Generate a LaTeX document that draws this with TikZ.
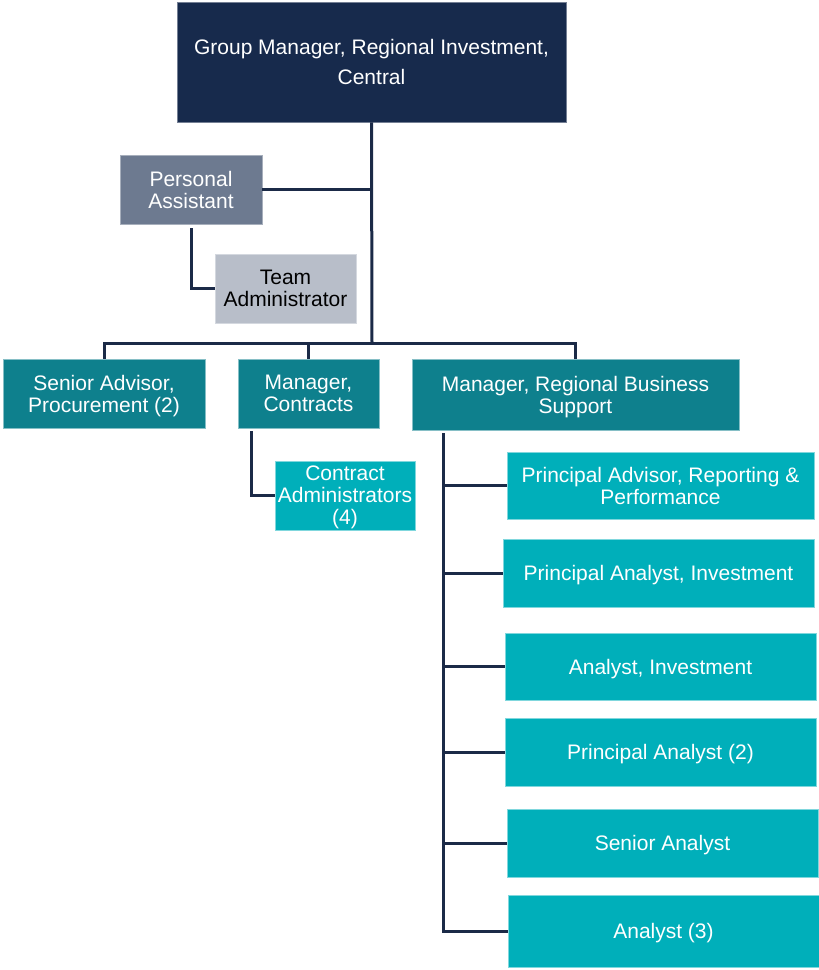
\documentclass[tikz,border=0pt]{standalone}
\usepackage{fontspec}
\setmainfont{Liberation Sans}
\definecolor{navy}{HTML}{172A4C}
\definecolor{slate}{HTML}{6D7A90}
\definecolor{lightgrey}{HTML}{B8BEC9}
\definecolor{darkteal}{HTML}{0E808D}
\definecolor{lightteal}{HTML}{00AFBA}
\definecolor{linecol}{HTML}{1B2A47}
\tikzset{
  box/.style={rectangle, inner sep=0pt, align=center, text=white, font=\fontsize{21}{22}\selectfont},
  topbox/.style={box, fill=navy, draw=navy!60!white, line width=0.6pt, font=\fontsize{21}{30}\selectfont},
  pabox/.style={box, text depth=0pt, fill=slate, draw=slate!60!white, line width=0.6pt},
  tabox/.style={box, text depth=0pt, fill=lightgrey, draw=lightgrey!60!white, line width=0.6pt, text=black},
  midbox/.style={box, text depth=0pt, fill=darkteal, draw=darkteal!50!white, line width=0.6pt},
  cabox/.style={box, text depth=0pt, fill=lightteal, draw=lightteal!50!white, line width=0.6pt},
  rbox/.style={box, text depth=0pt, fill=lightteal, draw=lightteal!50!white, line width=0.6pt},
  conn/.style={draw=linecol, line width=3pt}
}
\begin{document}
\begin{tikzpicture}[x=1pt, y=-1pt]
\useasboundingbox (0,0) rectangle (819,970);
\node[topbox, minimum width=389pt, minimum height=120pt] (top) at (371.5,62) {Group Manager, Regional Investment,\\Central};
\node[pabox, minimum width=142pt, minimum height=69pt] (pa) at (191,189.5) {Personal\\Assistant};
\node[tabox, minimum width=141pt, minimum height=69pt] (ta) at (285.5,288.5) {Team\\Administrator};
\node[midbox, minimum width=202pt, minimum height=69pt] (sa) at (104,393.5) {Senior Advisor,\\Procurement (2)};
\node[midbox, minimum width=141pt, minimum height=69pt] (mc) at (308.5,393.5) {Manager,\\Contracts};
\node[midbox, minimum width=327pt, minimum height=71pt] (mr) at (575.5,394.5) {Manager, Regional Business\\Support};
\node[cabox, minimum width=140pt, minimum height=69pt] (ca) at (345,495.5) {Contract\\Administrators\\(4)};
\node[rbox, minimum width=307pt, minimum height=67pt] (r1) at (660.5,485.5) {Principal Advisor, Reporting \&\\Performance};
\node[rbox, minimum width=311pt, minimum height=68pt] (r2) at (658.5,573) {Principal Analyst, Investment};
\node[rbox, minimum width=311pt, minimum height=67pt] (r3) at (660.5,666.5) {Analyst, Investment};
\node[rbox, minimum width=311pt, minimum height=68pt] (r4) at (660.5,752) {Principal Analyst (2)};
\node[rbox, minimum width=311pt, minimum height=68pt] (r5) at (662.5,843) {Senior Analyst};
\node[rbox, minimum width=311pt, minimum height=72pt] (r6) at (663.5,931) {Analyst (3)};
\coordinate (bus) at (372,343);
\coordinate (rv) at (443,433);
\coordinate (cv) at (251,431);
\coordinate (pv) at (191,228);
% connectors
\draw[conn] (top.south) -- (bus);
\draw[conn] (pa.east) -- (pa.east -| top.south);
\draw[conn] (pv) |- (ta.west);
\draw[conn] (sa.north) |- (bus) -| (mr.north);
\draw[conn] (mc.north) -- (mc.north |- bus);
\draw[conn] (cv) |- (ca.west);
\draw[conn] (rv) |- (r6.west);
\draw[conn] (rv |- r1.west) -- (r1.west);
\draw[conn] (rv |- r2.west) -- (r2.west);
\draw[conn] (rv |- r3.west) -- (r3.west);
\draw[conn] (rv |- r4.west) -- (r4.west);
\draw[conn] (rv |- r5.west) -- (r5.west);
\end{tikzpicture}
\end{document}
